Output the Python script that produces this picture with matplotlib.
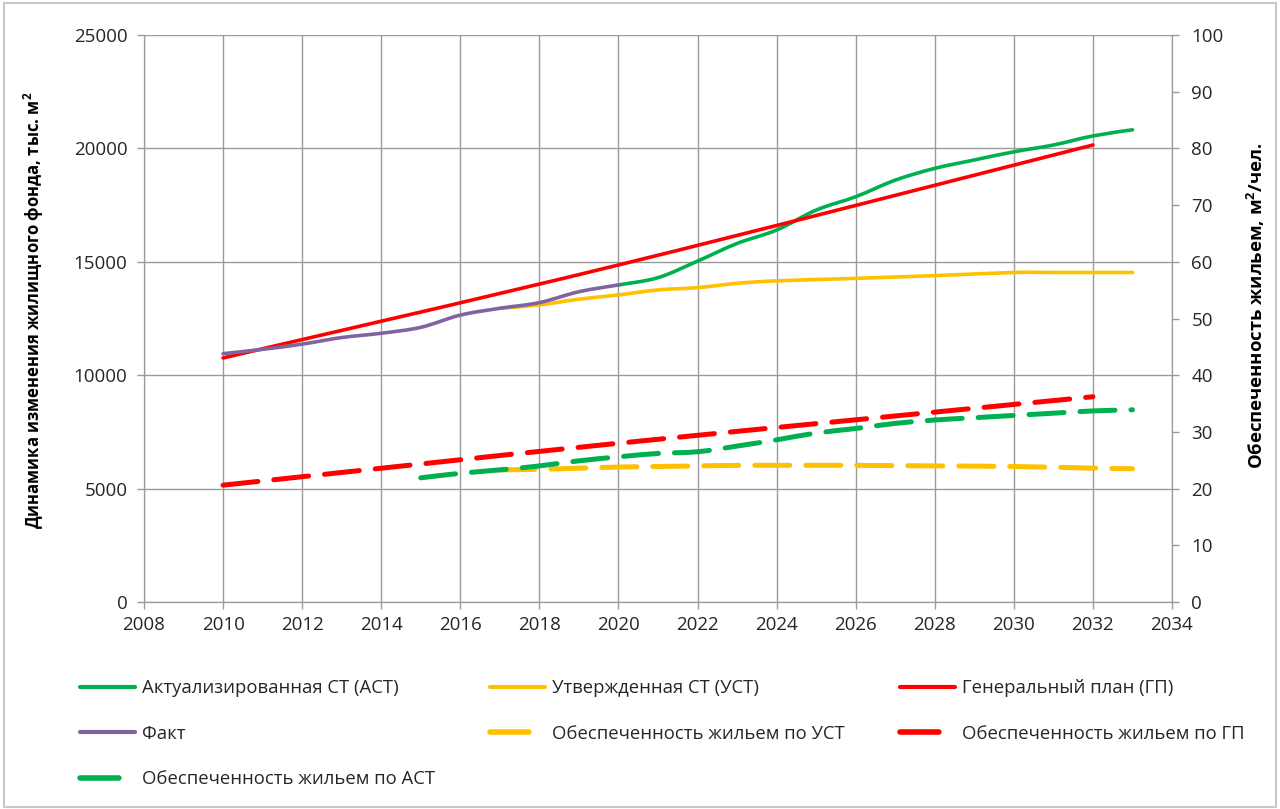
import matplotlib
matplotlib.use("Agg")
import matplotlib.pyplot as plt
from matplotlib.path import Path
from matplotlib.patches import PathPatch, Rectangle
from matplotlib.lines import Line2D
import numpy as np

plt.rcParams["font.family"] = ["Open Sans", "DejaVu Sans"]
plt.rcParams["mathtext.fontset"] = "custom"
plt.rcParams["mathtext.rm"] = "Open Sans"
plt.rcParams["mathtext.bf"] = "Open Sans:bold"

# жилищный фонд, тыс. м2 (левая ось)
fact_years = [2010, 2011, 2012, 2013, 2014, 2015, 2016, 2017, 2018, 2019, 2020]
fact_vals = [10950, 11140, 11370, 11660, 11850, 12110, 12650, 12950, 13200, 13680, 13980]

ast_years = [2020, 2021, 2022, 2023, 2024, 2025, 2026, 2027, 2028, 2029, 2030, 2031, 2032, 2033]
ast_vals = [13980, 14300, 15030, 15810, 16400, 17280, 17870, 18600, 19120, 19490, 19850, 20150, 20550, 20820]

ust_years = [2017, 2018, 2019, 2020, 2021, 2022, 2023, 2024, 2026, 2028, 2030, 2031, 2032, 2033]
ust_vals = [12950, 13100, 13350, 13540, 13760, 13860, 14050, 14160, 14270, 14390, 14530, 14530, 14530, 14530]

gp_years = [2010, 2020, 2032]
gp_vals = [10760, 14860, 20150]

# обеспеченность жильем, м2/чел. (правая ось)
prov_gp_years = [2010, 2020, 2032]
prov_gp_vals = [20.6, 28.0, 36.2]

prov_ast_years = [2015, 2016, 2017, 2018, 2019, 2020, 2021, 2022, 2023, 2024,
                  2025, 2026, 2027, 2028, 2029, 2030, 2031, 2032, 2033]
prov_ast_vals = [21.9, 22.7, 23.3, 24.0, 24.9, 25.6, 26.2, 26.5, 27.5, 28.6,
                 29.8, 30.6, 31.5, 32.1, 32.5, 32.9, 33.3, 33.7, 33.9]

prov_ust_years = [2017, 2018, 2019, 2020, 2021, 2022, 2023, 2024, 2026, 2028, 2030, 2032, 2033]
prov_ust_vals = [23.3, 23.4, 23.6, 23.8, 23.9, 24.0, 24.1, 24.1, 24.1, 24.0, 23.9, 23.6, 23.5]

GREEN = "#00B050"
YELLOW = "#FFC000"
RED = "#FF0000"
PURPLE = "#8064A2"
GRID = "#9a9a9a"


def smooth(ax, xs, ys, color, lw, dashed=False, z=3):
    # сглаженная линия как в Excel (кривые Безье через точки)
    pts = np.column_stack([xs, ys]).astype(float)
    n = len(pts)
    verts = [pts[0]]
    codes = [Path.MOVETO]
    for i in range(n - 1):
        p0 = pts[max(i - 1, 0)]
        p1 = pts[i]
        p2 = pts[i + 1]
        p3 = pts[min(i + 2, n - 1)]
        verts += [p1 + (p2 - p0) / 6, p2 - (p3 - p1) / 6, p2]
        codes += [Path.CURVE4] * 3
    patch = PathPatch(Path(verts, codes), fill=False, edgecolor=color, lw=lw,
                      capstyle="round", joinstyle="round", zorder=z)
    if dashed:
        patch.set_linestyle((0, (7, 3.2)))
    ax.add_patch(patch)


fig = plt.figure(figsize=(12.8, 8.09), dpi=100)
ax = fig.add_axes([144 / 1280, 1 - 602 / 809, 1028 / 1280, 567 / 809])
ax2 = ax.twinx()

smooth(ax, ast_years, ast_vals, GREEN, 2.6, z=3)
smooth(ax, ust_years, ust_vals, YELLOW, 2.6, z=3)
smooth(ax, gp_years, gp_vals, RED, 2.6, z=4)
smooth(ax, fact_years, fact_vals, PURPLE, 2.6, z=5)

smooth(ax2, prov_ust_years, prov_ust_vals, YELLOW, 3.6, dashed=True, z=3)
smooth(ax2, prov_ast_years, prov_ast_vals, GREEN, 3.6, dashed=True, z=4)
smooth(ax2, prov_gp_years, prov_gp_vals, RED, 3.6, dashed=True, z=5)

ax.set_xlim(2008, 2034)
ax.set_ylim(0, 25000)
ax2.set_ylim(0, 100)
ax.set_xticks(np.arange(2008, 2035, 2))
ax.set_yticks(np.arange(0, 25001, 5000))
ax2.set_yticks(np.arange(0, 101, 10))

ax.grid(True, color=GRID, lw=1)
ax.set_axisbelow(True)
for a in (ax, ax2):
    for s in a.spines.values():
        s.set_color(GRID)
    a.spines["top"].set_visible(False)
ax.tick_params(axis="both", colors=GRID, labelcolor="#262626", labelsize=13.5, length=5, width=1)
ax.tick_params(axis="x", pad=5)
ax.tick_params(axis="y", pad=7)
ax2.tick_params(axis="y", colors=GRID, labelcolor="#262626", labelsize=13.5, length=5, width=1, pad=9)

ax.set_ylabel(r"Динамика изменения жилищного фонда, тыс. м$^\mathbf{2}$", fontsize=12, fontweight="bold")
ax.yaxis.set_label_coords(-0.095, 0.515)
ax2.set_ylabel(r"Обеспеченность жильем, м$^\mathbf{2}$/чел.", fontsize=13.3, fontweight="bold")
ax2.yaxis.set_label_coords(1.071, 0.522)

solid = dict(lw=3, solid_capstyle="round")
dash = dict(lw=4, dash_capstyle="round", linestyle=(0, (7, 20)))
columns = [
    ([Line2D([], [], color=GREEN, **solid), Line2D([], [], color=PURPLE, **solid),
      Line2D([], [], color=GREEN, **dash)],
     ["Актуализированная СТ (АСТ)", "Факт", "Обеспеченность жильем по АСТ"], 80),
    ([Line2D([], [], color=YELLOW, **solid), Line2D([], [], color=YELLOW, **dash)],
     ["Утвержденная СТ (УСТ)", "Обеспеченность жильем по УСТ"], 490),
    ([Line2D([], [], color=RED, **solid), Line2D([], [], color=RED, **dash)],
     ["Генеральный план (ГП)", "Обеспеченность жильем по ГП"], 900),
]
for handles, labels, x0 in columns:
    fig.legend(handles, labels, loc="upper left", bbox_to_anchor=(x0 / 1280, 1 - 679 / 809),
               frameon=False, fontsize=13.3, handlelength=3.0, handletextpad=0.33,
               labelspacing=1.5, borderpad=0, borderaxespad=0, labelcolor="#262626")

fig.patches.append(Rectangle((4 / 1280, 2 / 809), 1272 / 1280, 804 / 809, transform=fig.transFigure,
                             fill=False, edgecolor="#c8c8c8", lw=1.5))

fig.savefig("out.png", dpi=100)
